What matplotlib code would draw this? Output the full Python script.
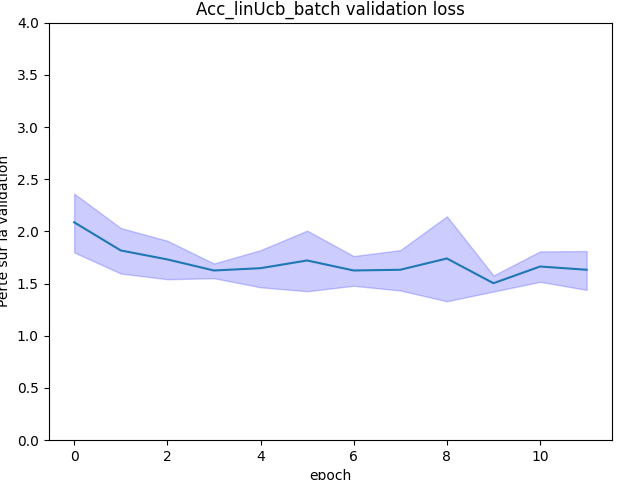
import numpy as np
import matplotlib
matplotlib.use("Agg")
import matplotlib.pyplot as plt


# données
epochs = np.arange(12)
loss_mean = [2.087, 1.817, 1.731, 1.625, 1.647, 1.721, 1.625, 1.632, 1.740, 1.503, 1.663, 1.632]
loss_upper = [2.362, 2.032, 1.910, 1.692, 1.820, 2.007, 1.763, 1.820, 2.144, 1.577, 1.808, 1.811]
loss_lower = [1.798, 1.596, 1.541, 1.551, 1.464, 1.426, 1.478, 1.433, 1.330, 1.423, 1.516, 1.439]

fig = plt.figure(figsize=(6.4, 4.8), dpi=100)
ax = fig.add_subplot(111)
fig.subplots_adjust(left=0.0758, right=0.9567, bottom=0.0833, top=0.9527)

ax.plot(epochs, loss_mean, color='tab:blue')
ax.fill_between(epochs, loss_lower, loss_upper, color='blue', alpha=0.2)
ax.set_ylim(0, 4)
ax.set_title("Acc_linUcb_batch validation loss")
ax.set_xlabel("epoch")
ax.set_ylabel("Perte sur la validation")

fig.savefig("out.png", dpi=100)
